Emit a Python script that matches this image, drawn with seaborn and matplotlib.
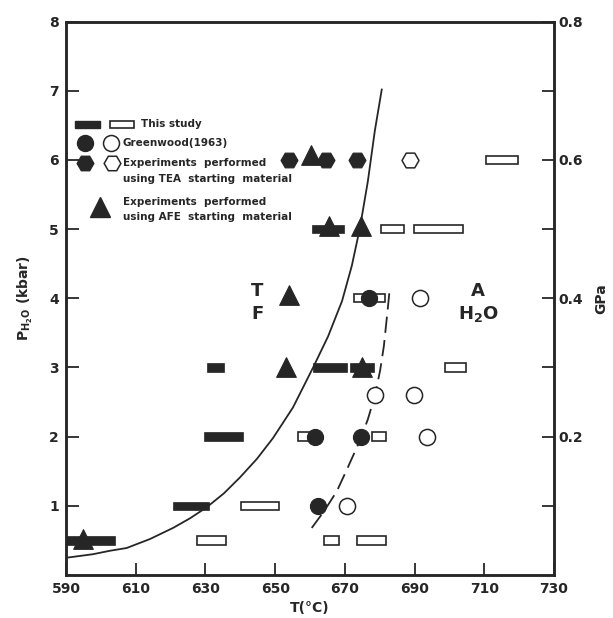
import matplotlib
matplotlib.use("Agg")
import matplotlib.pyplot as plt
import seaborn as sns
from matplotlib.patches import Rectangle

# ---------------- data ----------------
filled_rect_T0 = [590.0, 620.8, 629.7, 630.4, 660.9, 671.5, 660.5]
filled_rect_T1 = [604.1, 631.0, 640.9, 635.3, 670.5, 678.5, 669.7]
filled_rect_P = [0.5, 1.0, 2.0, 3.0, 3.0, 3.0, 5.0]

open_rect_T0 = [627.5, 664.0, 673.6, 640.2, 656.7, 677.7, 698.8, 672.5, 680.3, 689.7, 710.6]
open_rect_T1 = [635.8, 668.3, 681.9, 651.2, 660.0, 681.9, 704.8, 681.6, 687.0, 703.8, 719.7]
open_rect_P = [0.5, 0.5, 0.5, 1.0, 2.0, 2.0, 3.0, 4.0, 5.0, 5.0, 6.0]

gw_filled_T = [662.4, 661.5, 674.7, 677.0]
gw_filled_P = [1.0, 2.0, 2.0, 4.0]
gw_open_T = [670.6, 693.5, 678.7, 689.7, 691.6]
gw_open_P = [1.0, 2.0, 2.6, 2.6, 4.0]

tea_filled_T = [654.1, 664.7, 673.5]
tea_filled_P = [6.0, 6.0, 6.0]
tea_open_T = [688.6]
tea_open_P = [6.0]

afe_T = [594.8, 653.1, 674.9, 654.1, 665.5, 674.6, 660.4]
afe_P = [0.52, 3.0, 3.0, 4.05, 5.05, 5.05, 6.07]

solid_T = [590.2, 597.7, 602.6, 607.4, 614.1, 620.7, 625.6, 630.4, 635.3, 639.9, 644.8,
           649.4, 655.1, 660.9, 665.2, 669.2, 672.0, 674.3, 676.6, 678.6, 680.6]
solid_P = [0.25, 0.30, 0.35, 0.39, 0.52, 0.68, 0.82, 0.98, 1.18, 1.41, 1.68,
           1.98, 2.42, 3.00, 3.45, 3.96, 4.47, 5.01, 5.69, 6.42, 7.02]

dash_T = [660.5, 664.0, 667.7, 670.9, 674.3, 676.6, 678.6, 680.1, 681.2, 681.8, 682.4, 682.8]
dash_P = [0.68, 0.92, 1.21, 1.56, 1.94, 2.25, 2.59, 2.95, 3.31, 3.60, 3.89, 4.10]

x_ticks = [590, 610, 630, 650, 670, 690, 710, 730]
y_ticks = [1, 2, 3, 4, 5, 6, 7, 8]
gpa_ticks = [0.1, 0.2, 0.3, 0.4, 0.5, 0.6, 0.7, 0.8]
gpa_labels = ["", "0.2", "", "0.4", "", "0.6", "", "0.8"]

# ---------------- style ----------------
sns.set_style("ticks")
plt.rcParams["font.family"] = ["DejaVu Sans"]
plt.rcParams["font.weight"] = "bold"
INK = "#262626"

fig = plt.figure(figsize=(6.13, 6.18), dpi=100)
ax = fig.add_axes([0.1077, 0.0696, 0.796, 0.8956])

# curves
sns.lineplot(x=solid_T, y=solid_P, ax=ax, color=INK, lw=1.3, sort=False, zorder=2)
sns.lineplot(x=dash_T, y=dash_P, ax=ax, color=INK, lw=1.3, sort=False, zorder=2)
ax.lines[-1].set_dashes([9, 4])

# rectangles (this study)
H = 0.12
ax.barh(filled_rect_P, [b - a for a, b in zip(filled_rect_T0, filled_rect_T1)],
        left=filled_rect_T0, height=H, color=INK, edgecolor=INK, lw=0.5, zorder=3)
ax.barh(open_rect_P, [b - a for a, b in zip(open_rect_T0, open_rect_T1)],
        left=open_rect_T0, height=H, facecolor="white", edgecolor=INK, lw=1.2, zorder=3)

# markers
sns.scatterplot(x=gw_filled_T, y=gw_filled_P, ax=ax, marker="o", s=135,
                color=INK, edgecolor=INK, linewidth=0.8, zorder=5)
sns.scatterplot(x=gw_open_T, y=gw_open_P, ax=ax, marker="o", s=135,
                facecolor="white", edgecolor=INK, linewidth=1.1, zorder=5)
sns.scatterplot(x=tea_filled_T, y=tea_filled_P, ax=ax, marker="H", s=150,
                color=INK, edgecolor=INK, linewidth=0.8, zorder=5)
sns.scatterplot(x=tea_open_T, y=tea_open_P, ax=ax, marker="H", s=150,
                facecolor="white", edgecolor=INK, linewidth=1.1, zorder=5)
sns.scatterplot(x=afe_T, y=afe_P, ax=ax, marker="^", s=200,
                color=INK, edgecolor=INK, linewidth=0.8, zorder=6)

# field labels
ax.text(644.8, 4.1, "T", fontsize=13, ha="center", va="center", color=INK)
ax.text(644.8, 3.77, "F", fontsize=13, ha="center", va="center", color=INK)
ax.text(708.3, 4.1, "A", fontsize=13, ha="center", va="center", color=INK)
ax.text(708.3, 3.77, r"H$_\mathbf{2}$O", fontsize=13, ha="center", va="center", color=INK)

# axes
ax.set_xlim(590, 730)
ax.set_ylim(0, 8)
ax.set_xticks(x_ticks)
ax.set_xticklabels([str(v) for v in x_ticks])
ax.set_yticks(y_ticks)
ax.set_yticklabels([str(v) for v in y_ticks])
ax.tick_params(direction="in", length=9, width=1.3, labelsize=10, pad=5, colors=INK)
for sp in ax.spines.values():
    sp.set_visible(True)
    sp.set_linewidth(1.8)
    sp.set_color(INK)
ax.set_xlabel("T(°C)", fontsize=10, fontweight="bold", color=INK, labelpad=4)
ax.set_ylabel(r"P$_{\mathbf{H_2O}}$ (kbar)", fontsize=10, fontweight="bold", color=INK, labelpad=10)

ax2 = ax.twinx()
ax2.set_ylim(0, 0.8)
ax2.set_yticks(gpa_ticks)
ax2.set_yticklabels(gpa_labels)
ax2.tick_params(direction="in", length=9, width=1.3, labelsize=10, pad=3, colors=INK)
for sp in ax2.spines.values():
    sp.set_linewidth(1.8)
    sp.set_color(INK)
ax2.set_ylabel("GPa", fontsize=10, fontweight="bold", color=INK, labelpad=8)

# ---------------- legend (axes fraction) ----------------
def fx(px):
    return (px - 66) / 488.0

def fy(py):
    return (575 - py) / 553.5

tr = ax.transAxes
ax.add_patch(Rectangle((fx(75), fy(127.5)), fx(100) - fx(75), fy(120.5) - fy(127.5),
                       transform=tr, facecolor=INK, edgecolor=INK, zorder=7))
ax.add_patch(Rectangle((fx(110), fy(127.5)), fx(134) - fx(110), fy(121) - fy(127.5),
                       transform=tr, facecolor="white", edgecolor=INK, lw=1.2, zorder=7))
ax.text(fx(141), fy(124), "This study", transform=tr, fontsize=7.5, va="center", color=INK)

ax.plot([fx(85)], [fy(143.3)], "o", ms=11.5, color=INK, transform=tr, zorder=7)
ax.plot([fx(111)], [fy(143.3)], "o", ms=11.5, mfc="white", mec=INK, mew=1.1, transform=tr, zorder=7)
ax.text(fx(122), fy(143.3), "Greenwood(1963)", transform=tr, fontsize=7.5, va="center", color=INK)

ax.plot([fx(85)], [fy(163.3)], "H", ms=12, color=INK, transform=tr, zorder=7)
ax.plot([fx(111.5)], [fy(163.3)], "H", ms=12, mfc="white", mec=INK, mew=1.1, transform=tr, zorder=7)
ax.text(fx(123), fy(163.3), "Experiments  performed", transform=tr, fontsize=7.5, va="center", color=INK)
ax.text(fx(123), fy(179), "using TEA  starting  material", transform=tr, fontsize=7.5, va="center", color=INK)

ax.plot([fx(100)], [fy(206.7)], "^", ms=14, color=INK, transform=tr, zorder=7)
ax.text(fx(123), fy(201.7), "Experiments  performed", transform=tr, fontsize=7.5, va="center", color=INK)
ax.text(fx(123), fy(216.7), "using AFE  starting  material", transform=tr, fontsize=7.5, va="center", color=INK)

fig.savefig("out.png", dpi=100)
